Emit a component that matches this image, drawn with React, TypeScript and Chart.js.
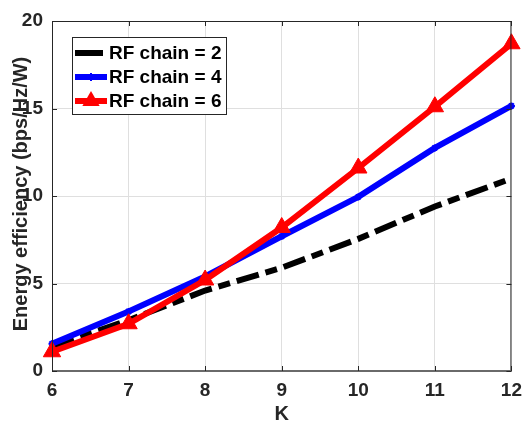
import React, { useEffect, useRef } from "react";
import { Chart, registerables } from "chart.js";

Chart.register(...registerables);

const K = [6, 7, 8, 9, 10, 11, 12];
const rf2 = [1.4, 2.9, 4.6, 5.9, 7.55, 9.4, 11.0];
const rf4 = [1.56, 3.4, 5.4, 7.7, 9.95, 12.75, 15.15];
const rf6 = [1.1, 2.7, 5.2, 8.2, 11.6, 15.1, 18.7];
const seriesLabels = ["RF chain = 2", "RF chain = 4", "RF chain = 6"];
const xTicks = [6, 7, 8, 9, 10, 11, 12];
const yTicks = [0, 5, 10, 15, 20];
const xTitle = "K";
const yTitle = "Energy efficiency (bps/Hz/W)";

const FONT = '"Liberation Sans", Arial, Helvetica, sans-serif';
const AX = "#262626";

const pts = (vals: number[]) => K.map((k, i) => ({ x: k, y: vals[i] }));

const overlayPlugin = {
  id: "overlay",
  afterDraw(chart: any) {
    const ctx = chart.ctx as CanvasRenderingContext2D;
    const { left, right, top, bottom } = chart.chartArea;
    const xs = chart.scales.x;
    const ys = chart.scales.y;
    ctx.save();
    // box
    ctx.strokeStyle = AX;
    ctx.lineWidth = 1;
    ctx.beginPath();
    ctx.moveTo(left + 0.5, bottom);
    ctx.lineTo(left + 0.5, top + 0.5);
    ctx.lineTo(right - 0.5, top + 0.5);
    ctx.lineTo(right - 0.5, bottom);
    ctx.stroke();
    ctx.strokeStyle = "#6a6a6a";
    ctx.lineWidth = 2;
    ctx.beginPath();
    ctx.moveTo(left, bottom);
    ctx.lineTo(right, bottom);
    ctx.stroke();
    // inward ticks
    ctx.strokeStyle = AX;
    ctx.lineWidth = 1;
    const tl = 5;
    ctx.beginPath();
    xTicks.forEach((t) => {
      const px = Math.round(xs.getPixelForValue(t)) + 0.5;
      ctx.moveTo(px, bottom);
      ctx.lineTo(px, bottom - tl);
      ctx.moveTo(px, top);
      ctx.lineTo(px, top + tl);
    });
    yTicks.forEach((t) => {
      const py = Math.round(ys.getPixelForValue(t)) + 0.5;
      ctx.moveTo(left, py);
      ctx.lineTo(left + tl, py);
      ctx.moveTo(right, py);
      ctx.lineTo(right - tl, py);
    });
    ctx.stroke();

    // axis titles
    ctx.fillStyle = AX;
    ctx.font = `bold 20px ${FONT}`;
    ctx.textAlign = "center";
    ctx.textBaseline = "middle";
    ctx.fillText(xTitle, (left + right) / 2, 414);
    ctx.save();
    ctx.translate(21, (top + bottom) / 2 - 2);
    ctx.rotate(-Math.PI / 2);
    ctx.fillText(yTitle, 0, 0);
    ctx.restore();

    // legend
    const bx = 72.5, by = 37.5, bw = 154, bh = 77;
    ctx.fillStyle = "#ffffff";
    ctx.fillRect(bx, by, bw, bh);
    ctx.strokeStyle = AX;
    ctx.lineWidth = 1;
    ctx.strokeRect(bx, by, bw, bh);
    const rows = [53, 77, 101];
    chart.data.datasets.forEach((ds: any, i: number) => {
      const y = rows[i];
      ctx.save();
      ctx.strokeStyle = ds.borderColor;
      ctx.lineWidth = ds.borderWidth;
      ctx.lineCap = "butt";
      ctx.beginPath();
      ctx.moveTo(75, y);
      ctx.lineTo(i === 0 ? 103 : 107, y);
      ctx.stroke();
      if (ds.pointStyle === "triangle") {
        ctx.fillStyle = ds.pointBackgroundColor;
        const r = ds.pointRadius;
        ctx.beginPath();
        ctx.moveTo(91, y - r);
        ctx.lineTo(91 + r * 0.866, y + r * 0.5);
        ctx.lineTo(91 - r * 0.866, y + r * 0.5);
        ctx.closePath();
        ctx.fill();
      } else if (ds.pointStyle === "star") {
        ctx.lineWidth = 2;
        ctx.beginPath();
        ctx.moveTo(91, y - 4);
        ctx.lineTo(91, y + 4);
        ctx.stroke();
      }
      ctx.restore();
      ctx.fillStyle = "#000000";
      ctx.font = `bold 19px ${FONT}`;
      ctx.textAlign = "left";
      ctx.textBaseline = "middle";
      ctx.fillText(seriesLabels[i], 109, y + 1);
    });
    ctx.restore();
  },
};

export default function App() {
  const ref = useRef<HTMLCanvasElement | null>(null);
  useEffect(() => {
    if (!ref.current) return;
    const chart = new Chart(ref.current, {
      type: "line",
      data: {
        datasets: [
          {
            label: seriesLabels[0],
            data: pts(rf2),
            borderColor: "#000000",
            backgroundColor: "#000000",
            borderWidth: 6,
            borderDash: [23, 7, 12, 7],
            pointRadius: 0,
            pointStyle: "circle",
            order: 2,
            clip: false,
          },
          {
            label: seriesLabels[1],
            data: pts(rf4),
            borderColor: "#0000ff",
            backgroundColor: "#0000ff",
            borderWidth: 6,
            pointStyle: "star",
            pointRadius: 3.5,
            pointBorderWidth: 2,
            pointBorderColor: "#0000ff",
            pointBackgroundColor: "#0000ff",
            order: 1,
            clip: false,
          },
          {
            label: seriesLabels[2],
            data: pts(rf6),
            borderColor: "#ff0000",
            backgroundColor: "#ff0000",
            borderWidth: 6,
            pointStyle: "triangle",
            pointRadius: 10,
            pointBorderWidth: 1,
            pointBorderColor: "#ff0000",
            pointBackgroundColor: "#ff0000",
            order: 0,
            clip: false,
          },
        ] as any,
      },
      options: {
        animation: false,
        responsive: false,
        maintainAspectRatio: false,
        layout: { padding: { left: 0, top: 21, right: 11, bottom: 0 } },
        plugins: { legend: { display: false }, tooltip: { enabled: false } },
        elements: { line: { tension: 0 } },
        scales: {
          x: {
            type: "linear",
            min: 6,
            max: 12,
            afterFit: (s: any) => {
              s.height = 51;
            },
            afterBuildTicks: (s: any) => {
              s.ticks = xTicks.map((v) => ({ value: v }));
            },
            ticks: {
              padding: 8,
              color: AX,
              font: { family: FONT, size: 19, weight: "bold" },
              callback: (v: any) => String(v),
            },
            grid: { color: "#dfdfdf", drawTicks: false, lineWidth: 1 },
            border: { display: false },
          },
          y: {
            type: "linear",
            min: 0,
            max: 20,
            afterFit: (s: any) => {
              s.width = 52;
            },
            afterBuildTicks: (s: any) => {
              s.ticks = yTicks.map((v) => ({ value: v }));
            },
            ticks: {
              padding: 9,
              color: AX,
              font: { family: FONT, size: 19, weight: "bold" },
              callback: (v: any) => String(v),
            },
            grid: { color: "#dfdfdf", drawTicks: false, lineWidth: 1 },
            border: { display: false },
          },
        },
      } as any,
      plugins: [overlayPlugin],
    });
    return () => chart.destroy();
  }, []);
  return (
    <div style={{ position: "fixed", left: 0, top: 0, width: 530, height: 422, background: "#fff" }}>
      <canvas ref={ref} width={530} height={422} style={{ display: "block" }} />
    </div>
  );
}
